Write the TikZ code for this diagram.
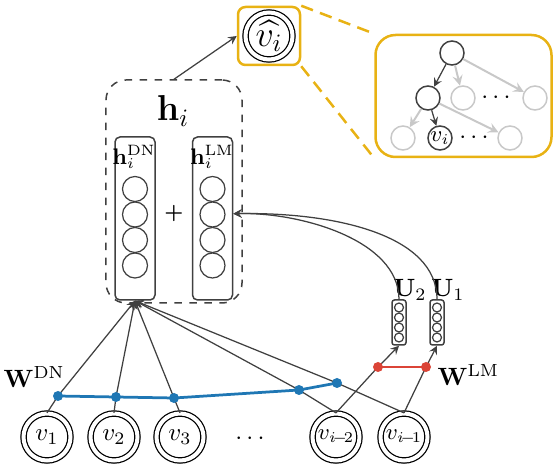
\documentclass[tikz,border=0pt]{standalone}
\usepackage{amsmath,amssymb}
\usepackage{tikz}
\definecolor{dnblue}{RGB}{31,119,180}
\definecolor{lmred}{RGB}{219,68,55}
\definecolor{ngold}{RGB}{232,178,20}
\definecolor{lgray}{RGB}{200,200,200}
\definecolor{dgray}{RGB}{64,64,64}
\tikzset{
  tok/.style={circle,draw,double,double distance=1.6pt,line width=0.5pt,minimum size=18.8pt,inner sep=0pt},
  vecbox/.style={draw=dgray,line width=0.6pt,rounded corners=2pt,inner sep=0pt},
  cell/.style={draw=dgray,line width=0.5pt},
  goldbox/.style={draw=ngold,line width=1pt,inner sep=0pt},
  tnode/.style={circle,draw,line width=0.6pt,minimum size=9.6pt,inner sep=0pt},
  conn/.style={->,dgray,line width=0.5pt}
}

\begin{document}
\begin{tikzpicture}[x=0.4pt,y=-0.4pt,>=stealth]
\useasboundingbox (0,0) rectangle (554,472);
\node[tok] (v1) at (47,437) {$v_1$};
\node[tok] (v2) at (114,437) {$v_2$};
\node[tok] (v3) at (180,437) {$v_3$};
\node (vdots) at (252,439) {$\cdots$};
\node[tok,font=\small] (vm2) at (336,437) {$v_{i\!-\!2}$};
\node[tok,font=\small] (vm1) at (404,437) {$v_{i\!-\!1}$};
\coordinate (d1) at (58,396);
\coordinate (d2) at (116,397);
\coordinate (d3) at (174,398);
\coordinate (d4) at (299,390);
\coordinate (d5) at (337,383);
\coordinate (r1) at (378,367);
\coordinate (r2) at (426,367);

\node[draw=dgray,dashed,line width=0.6pt,rounded corners=8pt,minimum width=54.4pt,minimum height=89.2pt] (hbox) at (174,191.5) {};
\node[font=\Large] (hlab) at (173,111) {$\mathbf{h}_i$};
\node[vecbox,minimum width=16pt,minimum height=65.2pt] (hdn) at (135,218.5) {};
\node[vecbox,minimum width=16pt,minimum height=65.2pt] (hlm) at (212.5,218.5) {};
\foreach \y in {189,214.5,240,265.5} {
  \draw[cell] (135,\y) circle (5pt);
  \draw[cell] (212.5,\y) circle (5pt);
}
\node[font=\small,inner sep=0pt] (hdnlab) at (134,157) {$\mathbf{h}_i^{\mathrm{DN}}$};
\node[font=\small,inner sep=0pt] (hlmlab) at (212,157) {$\mathbf{h}_i^{\mathrm{LM}}$};
\node[font=\footnotesize\bfseries,inner sep=0pt] (plus) at (174,214) {+};

\node[goldbox,rounded corners=3pt,minimum width=24.8pt,minimum height=23.2pt,font=\Large] (vbox) at (269,36) {$\widehat{v_i}$};
\draw[double,double distance=1.6pt,line width=0.5pt] (vbox.center) circle (9.4pt);
\draw[conn] (hbox.north) -- (vbox.west);
\node[goldbox,rounded corners=8pt,minimum width=70.4pt,minimum height=48.8pt] (tbox) at (463.5,96) {};
\draw[ngold,line width=1pt,dash pattern=on 5pt off 3pt] (vbox.north east) -- (tbox.north west);
\draw[ngold,line width=1pt,dash pattern=on 5pt off 3pt] (vbox.south east) -- (tbox.south west);

\node[tnode,draw=dgray] (troot) at (452,53) {};
\node[tnode,draw=dgray] (ta) at (428,98) {};
\node[tnode,draw=lgray] (tb) at (463,98) {};
\node (tdots1) at (498,98) {$\cdots$};
\node[tnode,draw=lgray] (tc) at (535,98) {};
\node[tnode,draw=lgray] (te) at (403,138) {};
\node[tnode,draw=dgray,font=\small] (tvi) at (440,138) {$v_i$};
\node (tdots2) at (476,138) {$\cdots$};
\node[tnode,draw=lgray] (tf) at (510,138) {};
\draw[conn] (troot) -- (ta);
\draw[->,lgray,line width=0.8pt] (troot) -- (tb);
\draw[->,lgray,line width=0.8pt] (troot) -- (tc);
\draw[->,lgray,line width=0.8pt] (ta) -- (te);
\draw[conn] (ta) -- (tvi);
\draw[->,lgray,line width=0.8pt] (ta) -- (tf);

\node[vecbox,minimum width=5.6pt,minimum height=18pt,rounded corners=1pt] (u2) at (399,322.5) {};
\node[vecbox,minimum width=5.6pt,minimum height=18pt,rounded corners=1pt] (u1) at (437,322.5) {};
\foreach \y in {307.5,317.5,327.5,337.5} {
  \draw[cell] (399,\y) circle (1.8pt);
  \draw[cell] (437,\y) circle (1.8pt);
}
\node (u2lab) at (410,290) {$\mathbf{U}_2$};
\node (u1lab) at (448,290) {$\mathbf{U}_1$};
\draw[conn] (u2.north) .. controls (399,240) and (300,212) .. (hlm.13);
\draw[conn] (u1.north) .. controls (437,235) and (335,212) .. (hlm.13);

\draw[conn] (v1.north) -- (d1) -- (hdn.south);
\draw[conn] (v2.north) -- (d2) -- (hdn.south);
\draw[conn] (v3.north) -- (d3) -- (hdn.south);
\draw[conn] (vm2.north) -- (d4) -- (hdn.south);
\draw[conn] (vm1.north) -- (d5) -- (hdn.south);
\draw[conn] (vm2.north) -- (r1) -- (u2.south);
\draw[conn] (vm1.north) -- (r2) -- (u1.south);
\draw[dnblue,line width=1.1pt] (d1) -- (d2) -- (d3) -- (d4) -- (d5);
\draw[lmred,line width=1.1pt] (r1) -- (r2);
\foreach \p in {d1,d2,d3,d4,d5} \fill[dnblue] (\p) circle (2pt);
\foreach \p in {r1,r2} \fill[lmred] (\p) circle (2pt);
\node[anchor=base west,inner sep=0pt] (wdn) at (3,388) {$\mathbf{W}^{\mathrm{DN}}$};
\node[anchor=base west,inner sep=0pt] (wlm) at (437,386) {$\mathbf{W}^{\mathrm{LM}}$};
\end{tikzpicture}
\end{document}
